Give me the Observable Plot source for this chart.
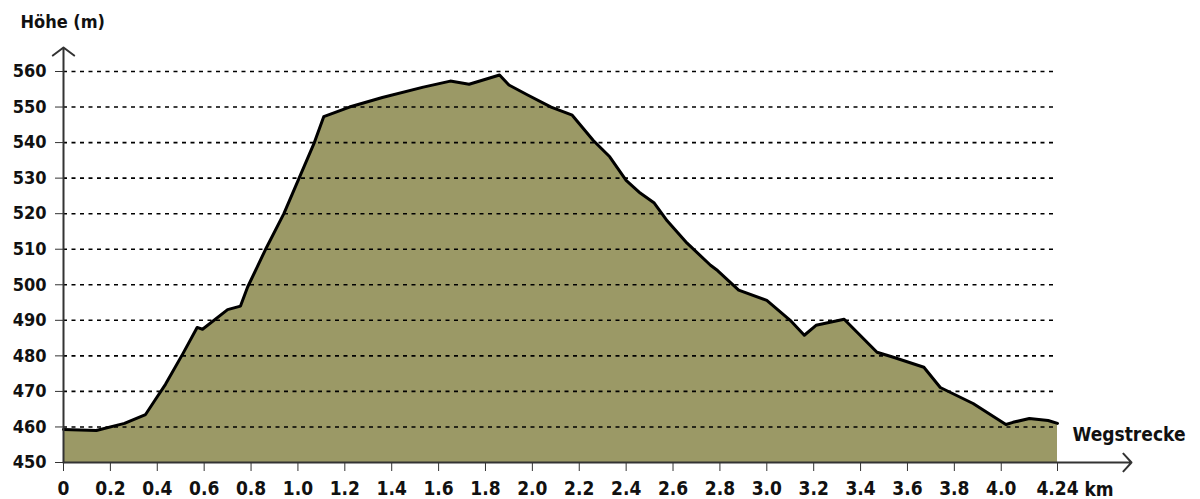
<!DOCTYPE html>
<html><head><meta charset="utf-8">
<script src="https://cdn.jsdelivr.net/npm/d3@7"></script>
<script src="https://cdn.jsdelivr.net/npm/@observablehq/plot@0.6"></script>
<style>
html,body{margin:0;padding:0;background:#fff;}
#chart svg{display:block;}
</style></head><body><div id="chart"></div>
<script>
// Route profile: distance (km) and elevation (m)
const distanceKm = [0, 0.14, 0.26, 0.35, 0.39, 0.435, 0.51, 0.57, 0.593, 0.70, 0.755, 0.785, 0.86, 0.94, 1.07, 1.11, 1.22, 1.36, 1.535, 1.65, 1.73, 1.79, 1.86, 1.90, 1.98, 2.08, 2.17, 2.26, 2.33, 2.40, 2.46, 2.52, 2.575, 2.66, 2.76, 2.79, 2.88, 3.0, 3.10, 3.16, 3.21, 3.33, 3.47, 3.54, 3.67, 3.74, 3.88, 4.02, 4.05, 4.12, 4.20, 4.24];
const elevationM = [459.3, 459, 461, 463.5, 467.5, 472, 480.7, 488, 487.5, 493, 494, 499.3, 509.7, 520, 540, 547.3, 550, 552.7, 555.6, 557.3, 556.4, 557.6, 559, 556.2, 553.4, 550, 547.7, 540.6, 536, 529.4, 525.8, 523, 518, 511.7, 505.5, 504, 498.5, 495.6, 490, 485.8, 488.6, 490.3, 481, 479.6, 476.8, 471.1, 466.6, 460.7, 461.3, 462.4, 461.8, 461];
const xTicks = [0, 0.2, 0.4, 0.6, 0.8, 1.0, 1.2, 1.4, 1.6, 1.8, 2.0, 2.2, 2.4, 2.6, 2.8, 3.0, 3.2, 3.4, 3.6, 3.8, 4.0, 4.24];
const xTickLabels = ["0", "0.2", "0.4", "0.6", "0.8", "1.0", "1.2", "1.4", "1.6", "1.8", "2.0", "2.2", "2.4", "2.6", "2.8", "3.0", "3.2", "3.4", "3.6", "3.8", "4.0", "4.24"];
const yTicks = [450, 460, 470, 480, 490, 500, 510, 520, 530, 540, 550, 560];
const yTitle = "Höhe (m)";
const xTitle = "Wegstrecke";
const xUnit = "km";

const profile = distanceKm.map((d, i) => ({km: d, ele: elevationM[i]}));
const FONT = '"DejaVu Sans Condensed", "DejaVu Sans", sans-serif';
const xMin = xTicks[0], xMax = xTicks[xTicks.length - 1];
const yMin = yTicks[0], yMax = yTicks[yTicks.length - 1];

const chart = Plot.plot({
  width: 1200, height: 499,
  marginLeft: 63, marginRight: 143, marginTop: 71, marginBottom: 37,
  style: {fontFamily: FONT, fontWeight: "bold", color: "#111", background: "#fff", overflow: "visible"},
  x: {domain: [xMin, xMax]},
  y: {domain: [yMin, yMax]},
  marks: [
    Plot.areaY(profile, {x: "km", y: "ele", fill: "#9b9966", clip: true}),
    Plot.gridY(yTicks.slice(1), {stroke: "#000", strokeOpacity: 1, strokeWidth: 1.6, strokeDasharray: "4,4.5"}),
    Plot.lineY(profile, {x: "km", y: "ele", stroke: "#000", strokeWidth: 3, strokeLinejoin: "round"}),
    Plot.axisY({ticks: yTicks, tickSize: 8, tickPadding: 9, fontSize: 18, label: null, stroke: "#333"}),
    Plot.axisX({ticks: xTicks, tickFormat: d => xTickLabels[xTicks.indexOf(d)], tickSize: 9, tickPadding: 10, fontSize: 19, label: null, stroke: "#333"}),
    Plot.arrow([0], {x1: () => xMin, y1: () => yMin, x2: () => xMin, y2: () => yMax, insetEnd: -24, stroke: "#333", strokeWidth: 2, headLength: 10, headAngle: 106}),
    Plot.arrow([0], {x1: () => xMin, y1: () => yMin, x2: () => xMax, y2: () => yMin, insetEnd: -74, stroke: "#333", strokeWidth: 2, headLength: 9, headAngle: 95}),
    Plot.text([yTitle], {text: d => d, frameAnchor: "top-left", dx: -43, dy: -56, textAnchor: "start", lineAnchor: "top", fontSize: 18, fill: "#111"}),
    Plot.text([xTitle], {text: d => d, frameAnchor: "bottom-right", dx: 15, dy: -35, textAnchor: "start", lineAnchor: "top", fontSize: 19, fill: "#111"}),
    Plot.text([xUnit], {text: d => d, frameAnchor: "bottom-right", dx: 27, dy: 20, textAnchor: "start", lineAnchor: "top", fontSize: 19, fill: "#111"})
  ]
});
document.getElementById("chart").appendChild(chart);
</script>
</body></html>
